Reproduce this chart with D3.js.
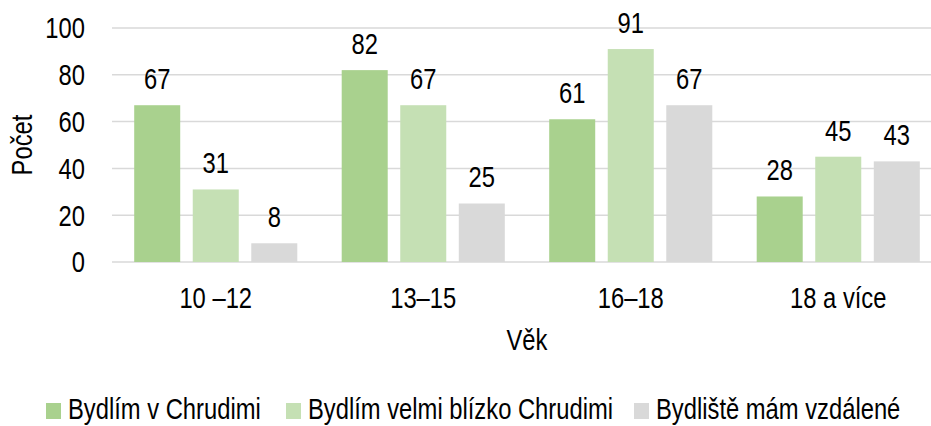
<!DOCTYPE html>
<html>
<head>
<meta charset="utf-8">
<script src="https://cdn.jsdelivr.net/npm/d3@7"></script>
<style>
  body { margin: 0; background: #fff; }
  text { font-family: "Liberation Sans Narrow", "Arial Narrow", "Liberation Sans", sans-serif; fill: #000; }
</style>
</head>
<body>
<script>
// age groups and the three answers
var categories = ["10 \u201312", "13\u201315", "16\u201318", "18 a v\u00edce"];
var seriesNames = ["Bydl\u00edm v Chrudimi", "Bydl\u00edm velmi bl\u00edzko Chrudimi", "Bydli\u0161t\u011b m\u00e1m vzd\u00e1len\u00e9"];
var inChrudim = [67, 82, 61, 28];
var nearChrudim = [31, 67, 91, 45];
var farAway = [8, 25, 67, 43];
var yTicks = [0, 20, 40, 60, 80, 100];
var colors = ["#a9d18e", "#c5e0b4", "#d9d9d9"];

var seriesValues = [inChrudim, nearChrudim, farAway];

var width = 931,
    height = 426,
    fontSize = 29;

var svg = d3.select("body")
    .append("svg")
    .attr("width", width)
    .attr("height", height);

// scales
var x0 = d3.scaleBand()
    .domain(categories)
    .range([112, 942])
    .paddingInner(0.214)
    .paddingOuter(0.107);

var x1 = d3.scaleBand()
    .domain(d3.range(seriesNames.length))
    .range([0, x0.bandwidth()])
    .paddingInner(0.214);

var y = d3.scaleLinear()
    .domain([0, 100])
    .range([262, 28]);

// gridlines
svg.append("g")
    .selectAll("line")
    .data(yTicks)
    .join("line")
    .attr("x1", 112)
    .attr("x2", width)
    .attr("y1", d => y(d))
    .attr("y2", d => y(d))
    .attr("stroke", "#d9d9d9")
    .attr("stroke-width", 1.5);

// y tick labels
svg.append("g")
    .selectAll("text")
    .data(yTicks)
    .join("text")
    .attr("x", 85)
    .attr("y", d => y(d))
    .attr("dy", "0.36em")
    .attr("text-anchor", "end")
    .attr("font-size", fontSize)
    .text(d => d);

// bars
var groups = svg.append("g")
    .selectAll("g")
    .data(categories)
    .join("g")
    .attr("transform", d => "translate(" + x0(d) + ",0)");

groups.selectAll("rect")
    .data((d, i) => seriesValues.map((s, k) => ({k: k, v: s[i]})))
    .join("rect")
    .attr("x", d => x1(d.k))
    .attr("width", x1.bandwidth())
    .attr("y", d => y(d.v))
    .attr("height", d => y(0) - y(d.v))
    .attr("fill", d => colors[d.k]);

// value labels
groups.selectAll("text")
    .data((d, i) => seriesValues.map((s, k) => ({k: k, v: s[i]})))
    .join("text")
    .attr("x", d => x1(d.k) + x1.bandwidth() / 2)
    .attr("y", d => y(d.v) - 16)
    .attr("text-anchor", "middle")
    .attr("font-size", fontSize)
    .text(d => d.v);

// category labels
svg.append("g")
    .selectAll("text")
    .data(categories)
    .join("text")
    .attr("x", d => x0(d) + x0.bandwidth() / 2)
    .attr("y", 308)
    .attr("text-anchor", "middle")
    .attr("font-size", fontSize)
    .text(d => d);

// axis titles
svg.append("text")
    .attr("x", 527)
    .attr("y", 350)
    .attr("text-anchor", "middle")
    .attr("font-size", fontSize)
    .text("V\u011bk");

svg.append("text")
    .attr("transform", "translate(32,145) rotate(-90)")
    .attr("text-anchor", "middle")
    .attr("font-size", fontSize)
    .text("Po\u010det");

// legend
var legendX = [46, 286, 634];
var legend = svg.append("g")
    .selectAll("g")
    .data(seriesNames)
    .join("g")
    .attr("transform", (d, i) => "translate(" + legendX[i] + ",0)");

legend.append("rect")
    .attr("x", 0)
    .attr("y", 403)
    .attr("width", 15)
    .attr("height", 16)
    .attr("fill", (d, i) => colors[i]);

legend.append("text")
    .attr("x", 22)
    .attr("y", 419)
    .attr("font-size", fontSize)
    .text(d => d);

// no narrow font installed, so squeeze the regular one around its x
svg.selectAll("text").each(function(){
    var t = d3.select(this),
        tx = +t.attr("x") || 0,
        old = t.attr("transform") || "";
    t.attr("transform", old + " translate(" + tx + ",0) scale(0.82,1) translate(" + (-tx) + ",0)");
});
</script>
</body>
</html>
